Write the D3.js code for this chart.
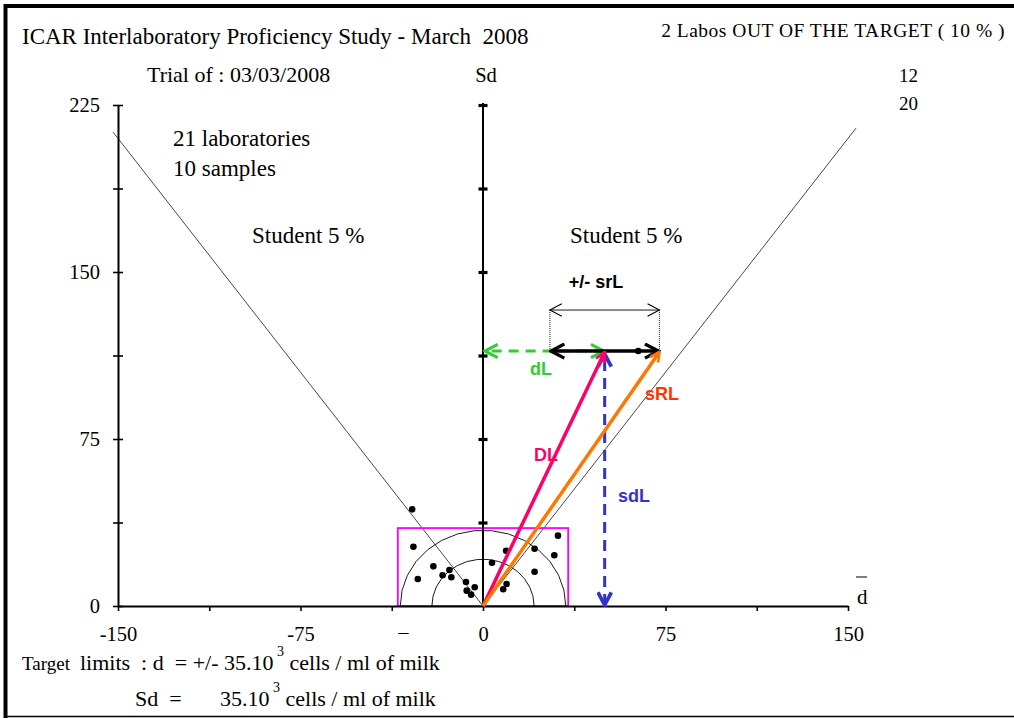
<!DOCTYPE html>
<html>
<head>
<meta charset="utf-8">
<script src="https://cdn.jsdelivr.net/npm/d3@7"></script>
<style>
  html, body { margin: 0; padding: 0; background: #fff; }
  svg { display: block; }
  .serif { font-family: "Liberation Serif", "Times New Roman", serif; fill: #000; }
  .sans { font-family: "Liberation Sans", Arial, sans-serif; font-weight: bold; }
</style>
</head>
<body>
<svg id="chart" width="1014" height="718"></svg>
<script>
// ---------------- data ----------------
const labD  = [-29.1, -28.6, -26.8, -20.4, -16.6, -13.8, -13.0, -7.0, -6.7, -4.9, -3.4, 3.7, 9.5, 9.7, 8.3, 21.2, 21.2, 29.3, 30.8, 63.8];
const labSd = [ 43.4,  26.6,  12.1,  17.8,  13.8,  16.2,  12.9, 10.8,  6.9,  5.1,  8.4, 19.4, 24.8, 9.9, 7.5, 25.7, 15.4, 22.8, 31.6, 114.5];
const xTicks = [-150, -112.5, -75, -37.5, 0, 37.5, 75, 112.5, 150];
const xTickLabels = ["-150", "", "-75", "\u2013", "0", "", "75", "", "150"];
const yTicks = [0, 37.5, 75, 112.5, 150, 187.5, 225];
const yTickLabels = ["0", "", "75", "", "150", "", "225"];
const studentSlope = 1.4;          // Sd / |d| of the Student 5 % lines
const studentLeftEnd = -152;
const studentRightEnd = 153.3;
const targetD = 35;                // target limits on d
const targetSd = 35;               // target limit on Sd
const arcRadii = [21, 34];
const meanD = 50;                  // dL
const meanSd = 114.5;              // sdL
const srL = 22.5;                  // +/- srL
const headerLines = ["12", "20"];

// ---------------- scales ----------------
const svg = d3.select("#chart");
const x = d3.scaleLinear().domain([-150, 150]).range([118, 848]);
const y = d3.scaleLinear().domain([0, 225]).range([606, 105]);

// ---------------- frame ----------------
svg.append("line").attr("x1", 5.5).attr("x2", 5.5).attr("y1", 4).attr("y2", 718).attr("stroke", "#000").attr("stroke-width", 4);
svg.append("line").attr("x1", 4).attr("x2", 1014).attr("y1", 6).attr("y2", 6).attr("stroke", "#000").attr("stroke-width", 4);
svg.append("line").attr("x1", 4).attr("x2", 1014).attr("y1", 716.5).attr("y2", 716.5).attr("stroke", "#000").attr("stroke-width", 1.5);

// ---------------- markers ----------------
const defs = svg.append("defs");
function chevron(id, color, size, sw) {
  const m = defs.append("marker").attr("id", id)
    .attr("viewBox", "-1 -6 12 12").attr("refX", 9.5).attr("refY", 0)
    .attr("markerWidth", size).attr("markerHeight", size)
    .attr("markerUnits", "userSpaceOnUse").attr("orient", "auto-start-reverse");
  m.append("path").attr("d", "M0,-5 L9.5,0 L0,5").attr("fill", "none")
    .attr("stroke", color).attr("stroke-width", sw).attr("stroke-linejoin", "miter");
}
chevron("mBlack", "#000", 17, 2.3);
chevron("mThin", "#000", 15, 0.9);
chevron("mGreen", "#33cc33", 16, 2.3);
chevron("mBlue", "#3333cc", 16, 2.8);
chevron("mPink", "#ff0066", 12, 2.6);
chevron("mOrange", "#ff7700", 12, 2.6);

// ---------------- student lines ----------------
const stud = svg.append("g").attr("stroke", "#333").attr("stroke-width", 0.9);
stud.append("line").attr("x1", x(0)).attr("y1", y(0)).attr("x2", x(studentLeftEnd)).attr("y2", y(-studentLeftEnd * studentSlope));
stud.append("line").attr("x1", x(0)).attr("y1", y(0)).attr("x2", x(studentRightEnd)).attr("y2", y(studentRightEnd * studentSlope));

// ---------------- target rectangle ----------------
svg.append("rect").attr("x", x(-targetD)).attr("y", y(targetSd))
  .attr("width", x(targetD) - x(-targetD)).attr("height", y(0) - y(targetSd))
  .attr("fill", "none").attr("stroke", "#ff00ff").attr("stroke-width", 1.8);

// ---------------- arcs ----------------
arcRadii.forEach(r => {
  const angles = d3.range(0, 181, 12);
  const pts = angles.map(a => [x(r * Math.cos(a * Math.PI / 180)), y(r * Math.sin(a * Math.PI / 180))]);
  pts.unshift([x(r), y(0)]);
  pts.push([x(-r), y(0)]);
  svg.append("path").attr("d", d3.line()(pts)).attr("fill", "none").attr("stroke", "#000").attr("stroke-width", 0.9);
});

// ---------------- axes ----------------
const fmtX = (d) => xTickLabels[xTicks.indexOf(d)];
const fmtY = (d) => yTickLabels[yTicks.indexOf(d)];

const gx = svg.append("g").attr("transform", `translate(0,${y(0)})`)
  .call(d3.axisBottom(x).tickValues(xTicks).tickFormat(fmtX).tickSizeInner(5).tickSizeOuter(0).tickPadding(15));
gx.select(".domain").attr("stroke-width", 2);
gx.selectAll(".tick line").attr("stroke-width", 1.6);
gx.selectAll(".tick text").attr("class", "serif").attr("font-size", 20.5).attr("dy", "0.71em");
gx.selectAll(".tick text").filter(d => d === -37.5).attr("dx", 11).attr("y", 18);

const gy = svg.append("g").attr("transform", `translate(${x(-150)},0)`)
  .call(d3.axisLeft(y).tickValues(yTicks).tickFormat(fmtY).tickSizeInner(5).tickSizeOuter(0).tickPadding(13));
gy.select(".domain").attr("stroke-width", 2);
gy.selectAll(".tick line").attr("x1", -5).attr("x2", 5).attr("stroke-width", 1.6);
gy.selectAll(".tick text").attr("class", "serif").attr("font-size", 20.5).attr("dy", "0.32em");

// center Sd axis
const gc = svg.append("g").attr("transform", `translate(${x(0)},0)`)
  .call(d3.axisLeft(y).tickValues(yTicks).tickFormat("").tickSizeInner(0).tickSizeOuter(0));
gc.select(".domain").attr("stroke-width", 2).attr("d", `M0,${y(0)}V${y(225) - 2}`);
gc.selectAll(".tick").filter(d => d > 0).append("line")
  .attr("x1", -4.5).attr("x2", 4.5).attr("stroke", "#000").attr("stroke-width", 3.2);

// ---------------- lab points ----------------
svg.append("g").selectAll("circle").data(labD.map((d, i) => [d, labSd[i]])).join("circle")
  .attr("cx", d => x(d[0])).attr("cy", d => y(d[1])).attr("r", 3.3).attr("fill", "#000");

// ---------------- srL construction ----------------
const lo = meanD - srL, hi = meanD + srL;
const yTop = y(meanSd) - 41;
svg.append("g").attr("stroke", "#000").attr("stroke-width", 0.9).attr("stroke-dasharray", "1,1")
  .selectAll("line").data([lo, hi]).join("line")
  .attr("x1", d => x(d)).attr("x2", d => x(d)).attr("y1", yTop).attr("y2", y(meanSd));
svg.append("line").attr("x1", x(lo)).attr("x2", x(hi)).attr("y1", yTop).attr("y2", yTop)
  .attr("stroke", "#000").attr("stroke-width", 0.9)
  .attr("marker-start", "url(#mThin)").attr("marker-end", "url(#mThin)");
svg.append("text").attr("class", "sans").attr("x", 596).attr("y", yTop - 22)
  .attr("text-anchor", "middle").attr("font-size", 18).attr("fill", "#000").text("+/- srL");

// dL green dashed arrow
svg.append("line").attr("x1", x(meanD) - 1).attr("x2", x(0) + 2).attr("y1", y(meanSd)).attr("y2", y(meanSd))
  .attr("stroke", "#33cc33").attr("stroke-width", 3).attr("stroke-dasharray", "10,7")
  .attr("marker-start", "url(#mGreen)").attr("marker-end", "url(#mGreen)");

// black +/- srL thick arrow
svg.append("line").attr("x1", x(lo) + 1).attr("x2", x(hi) - 1).attr("y1", y(meanSd)).attr("y2", y(meanSd))
  .attr("stroke", "#000").attr("stroke-width", 3.5)
  .attr("marker-start", "url(#mBlack)").attr("marker-end", "url(#mBlack)");

// sdL blue dashed vertical arrow
svg.append("line").attr("x1", x(meanD)).attr("x2", x(meanD)).attr("y1", y(0) - 1).attr("y2", y(meanSd) + 3)
  .attr("stroke", "#3333cc").attr("stroke-width", 3).attr("stroke-dasharray", "11,7")
  .attr("marker-start", "url(#mBlue)").attr("marker-end", "url(#mBlue)");

// DL pink arrow
svg.append("line").attr("x1", x(0)).attr("y1", y(0)).attr("x2", x(meanD)).attr("y2", y(meanSd) + 1)
  .attr("stroke", "#ff0066").attr("stroke-width", 3.5).attr("marker-end", "url(#mPink)");

// sRL orange arrow
svg.append("line").attr("x1", x(0)).attr("y1", y(0)).attr("x2", x(hi)).attr("y2", y(meanSd) + 1)
  .attr("stroke", "#ff7700").attr("stroke-width", 3.5).attr("marker-end", "url(#mOrange)");

// arrow labels
const lab = svg.append("g").attr("class", "sans").attr("font-size", 18);
lab.append("text").attr("x", 530).attr("y", 375).attr("fill", "#33cc33").text("dL");
lab.append("text").attr("x", 645).attr("y", 400).attr("fill", "#ff3300").text("sRL");
lab.append("text").attr("x", 534).attr("y", 461).attr("fill", "#ff0066").text("DL");
lab.append("text").attr("x", 618).attr("y", 502).attr("fill", "#3333cc").text("sdL");

// ---------------- texts ----------------
const T = (txt, xx, yy, size, anchor) => svg.append("text").attr("class", "serif")
  .attr("x", xx).attr("y", yy).attr("font-size", size).attr("text-anchor", anchor || "start").text(txt);

T("ICAR Interlaboratory Proficiency Study - March  2008", 22, 44, 23).style("white-space", "pre");
T("2 Labos OUT OF THE TARGET ( 10 % )", 1005, 37, 19.5, "end").attr("letter-spacing", 0.5);
T("Trial of : 03/03/2008", 147, 82, 22);
T("Sd", 486, 82, 20.5, "middle");
headerLines.forEach((t, i) => T(t, 918, 82 + i * 28, 19, "end"));
T("21 laboratories", 173, 146, 23);
T("10 samples", 173, 176, 23);
T("Student 5 %", 252, 243, 23);
T("Student 5 %", 570, 243, 23);
T("d", 857, 604, 21);
svg.append("line").attr("x1", 856).attr("x2", 867).attr("y1", 577).attr("y2", 577).attr("stroke", "#000").attr("stroke-width", 1);

const t1 = svg.append("text").attr("class", "serif").attr("y", 670).attr("font-size", 22).style("white-space", "pre");
t1.append("tspan").attr("x", 22).attr("font-size", 19).text("Target");
t1.append("tspan").attr("x", 80).text("limits  : d  = +/- 35.10");
t1.append("tspan").attr("dy", -14).attr("font-size", 14).text(" 3");
t1.append("tspan").attr("dy", 14).text(" cells / ml of milk");

const t2 = svg.append("text").attr("class", "serif").attr("y", 706).attr("font-size", 22).style("white-space", "pre");
t2.append("tspan").attr("x", 135).text("Sd  =");
t2.append("tspan").attr("x", 220).text("35.10");
t2.append("tspan").attr("dy", -14).attr("font-size", 14).text(" 3");
t2.append("tspan").attr("dy", 14).text(" cells / ml of milk");
</script>
</body>
</html>
